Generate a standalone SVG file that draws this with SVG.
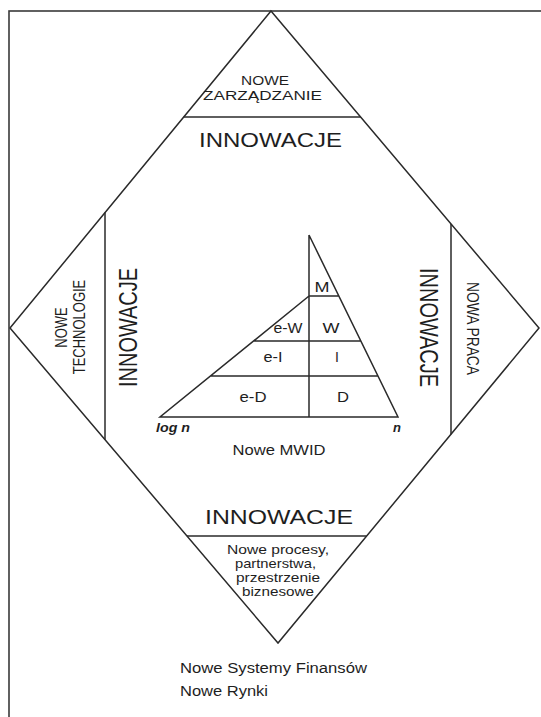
<svg xmlns="http://www.w3.org/2000/svg" width="541" height="717" viewBox="0 0 541 717">
<style>
.ln{fill:none;stroke:#2a2a2a;stroke-width:1.5;stroke-linejoin:miter}
.fr{fill:none;stroke:#3a3a3a;stroke-width:1.6}
text{font-family:"Liberation Sans",Arial,sans-serif;fill:#1e1e1e}
.c{text-anchor:middle}
.s13{font-size:13px}
.s14{font-size:14px}
.s20{font-size:20px}
.it{font-style:italic;font-weight:bold;font-size:13px}
</style>
<rect width="541" height="717" fill="#ffffff"/>
<g id="frame">
<rect class="fr" x="9" y="11" width="545" height="720"/>
</g>
<g id="diamond">
<polygon class="ln" points="271,11 539,328 278,643 10,328"/>
</g>
<g id="connectors">
<line class="ln" x1="183.7" y1="117" x2="360.6" y2="117"/>
<line class="ln" x1="105" y1="212.6" x2="105" y2="439.7"/>
<line class="ln" x1="451" y1="223.9" x2="451" y2="434.2"/>
<line class="ln" x1="187" y1="536" x2="366.6" y2="536"/>
</g>
<g id="node-top">
<text class="c s13" x="265" y="85" textLength="48" lengthAdjust="spacingAndGlyphs">NOWE</text>
<text class="c s13" x="262.5" y="100" textLength="119" lengthAdjust="spacingAndGlyphs">ZARZĄDZANIE</text>
<text class="c s20" x="270.5" y="147" textLength="143" lengthAdjust="spacingAndGlyphs">INNOWACJE</text>
</g>
<g id="node-left">
<text class="c s13" transform="translate(67,327.5) scale(1.2,1) rotate(-90)">NOWE</text>
<text class="c s13" transform="translate(85,327) scale(1.2,1) rotate(-90)">TECHNOLOGIE</text>
<text class="c s20" transform="translate(137,327.5) scale(1.28,1) rotate(-90)" textLength="119" lengthAdjust="spacingAndGlyphs">INNOWACJE</text>
</g>
<g id="node-right">
<text class="c s20" transform="translate(420,327.5) scale(1.28,1) rotate(90)" textLength="119" lengthAdjust="spacingAndGlyphs">INNOWACJE</text>
<text class="c s13" transform="translate(467,328.5) scale(1.2,1) rotate(90)" textLength="93" lengthAdjust="spacingAndGlyphs">NOWA PRACA</text>
</g>
<g id="node-bottom">
<text class="c s20" x="279" y="524" textLength="148" lengthAdjust="spacingAndGlyphs">INNOWACJE</text>
<text class="c s13" x="278" y="554" textLength="102" lengthAdjust="spacingAndGlyphs">Nowe procesy,</text>
<text class="c s13" x="275.5" y="568" textLength="81" lengthAdjust="spacingAndGlyphs">partnerstwa,</text>
<text class="c s13" x="278" y="582" textLength="84" lengthAdjust="spacingAndGlyphs">przestrzenie</text>
<text class="c s13" x="278" y="596" textLength="72" lengthAdjust="spacingAndGlyphs">biznesowe</text>
</g>
<g id="node-mwid">
<path class="ln" d="M309,235 L398,417 L160,417 L309,296 M309,235 L309,417 M309,296 L338.8,296 M253.6,341 L360.8,341 M210.5,376 L378,376"/>
<text class="c s14" x="322" y="292" textLength="15" lengthAdjust="spacingAndGlyphs">M</text>
<text class="c s14" x="288" y="333" textLength="29" lengthAdjust="spacingAndGlyphs">e-W</text>
<text class="c s14" x="331" y="333" textLength="17" lengthAdjust="spacingAndGlyphs">W</text>
<text class="c s14" x="273" y="362" textLength="19" lengthAdjust="spacingAndGlyphs">e-I</text>
<text class="c s14" x="337" y="362">I</text>
<text class="c s14" x="253" y="402" textLength="27" lengthAdjust="spacingAndGlyphs">e-D</text>
<text class="c s14" x="343" y="402" textLength="12" lengthAdjust="spacingAndGlyphs">D</text>
<text class="c it" x="173" y="432" textLength="34" lengthAdjust="spacingAndGlyphs">log n</text>
<text class="c it" x="397" y="432">n</text>
<text class="c s14" x="279" y="455" textLength="93" lengthAdjust="spacingAndGlyphs">Nowe MWID</text>
</g>
<g id="caption">
<text class="s14" x="180" y="673" textLength="187" lengthAdjust="spacingAndGlyphs">Nowe Systemy Finansów</text>
<text class="s14" x="180" y="696" textLength="88" lengthAdjust="spacingAndGlyphs">Nowe Rynki</text>
</g>
</svg>
